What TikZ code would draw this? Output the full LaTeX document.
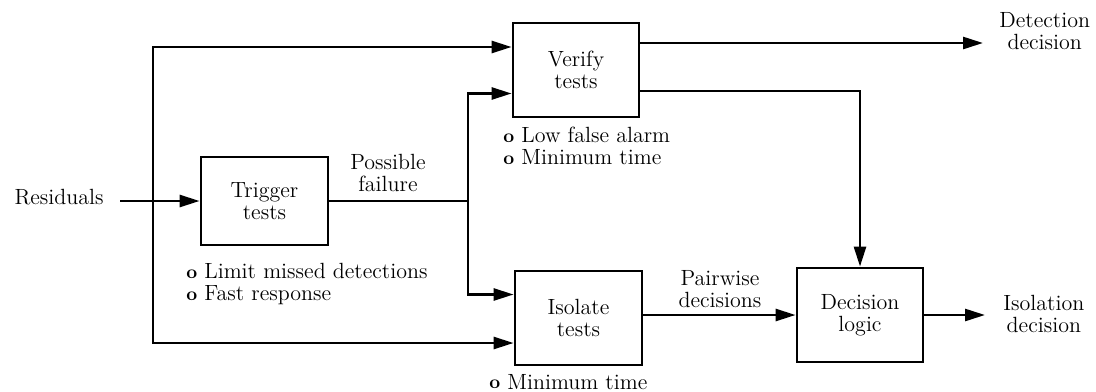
\documentclass[tikz,border=0pt]{standalone}
\usetikzlibrary{arrows.meta,calc}
\newcommand\bul{\raisebox{0.05ex}{\fontsize{9.5}{9.5}\selectfont\textbf{o}}\hspace{3.5pt}}
\begin{document}
\begin{tikzpicture}[x=0.5pt,y=-0.5pt,
  font=\fontsize{11}{11}\selectfont,
  blk/.style={draw,line width=1.4pt,align=center,inner sep=0pt},
  lbl/.style={align=center,inner sep=1pt},
  note/.style={align=left,inner sep=0pt,anchor=west},
  conn/.style={line width=1.3pt,-{Triangle[length=10pt,width=6pt]}},
  wire/.style={line width=1.3pt}]
\useasboundingbox (0,0) rectangle (1096,391);
% blocks
\node[blk,minimum width=63.5pt,minimum height=44pt] (trig) at (264.5,201) {Trigger\\tests};
\node[blk,minimum width=63pt,minimum height=47pt] (ver) at (576,70) {Verify\\tests};
\node[blk,minimum width=63.5pt,minimum height=47pt] (iso) at (578.5,318) {Isolate\\tests};
\node[blk,minimum width=63pt,minimum height=47pt] (dec) at (860,315) {Decision\\logic};
% labels
\node[lbl,anchor=east] (res) at (106,197) {Residuals};
\node[lbl] (pf) at (388,173) {Possible\\failure};
\node[lbl] (pw) at (720,289) {Pairwise\\decisions};
\node[lbl,anchor=west] (det) at (997,31) {Detection\\decision};
\node[lbl,anchor=west] (isol) at (1001,314) {Isolation\\decision};
% notes
\node[note] (nv) at (503,146) {\bul Low false alarm\\\bul Minimum time};
\node[note] (nt) at (186,284) {\bul Limit missed detections\\\bul Fast response};
\node[note] (ni) at (489,382) {\bul Minimum time};
% junctions
\coordinate (s1) at (153,201);
\coordinate (j) at (468,201);
\coordinate (vo1) at ($(ver.east)+(0,-27)$);
\coordinate (vo2) at ($(ver.east)+(0,21)$);
% connectors
\draw[conn,shorten <=7pt] (res.east |- trig.west) -- (trig.west);
\draw[conn] (s1) |- ($(ver.west)+(0,-23)$);
\draw[conn] (s1) |- ($(iso.west)+(0,25)$);
\draw[wire] (trig.east) -- (j);
\draw[conn] (j) |- ($(ver.west)+(0,23.5)$);
\draw[conn] (j) |- ($(iso.west)+(0,-23.5)$);
\draw[conn,shorten >=7pt] (vo1) -- (vo1 -| det.west);
\draw[conn] (vo2) -| (dec.north);
\draw[conn] (iso.east |- dec.west) -- (dec.west);
\draw[conn,shorten >=8pt] (dec.east) -- (dec.east -| isol.west);
\end{tikzpicture}
\end{document}
